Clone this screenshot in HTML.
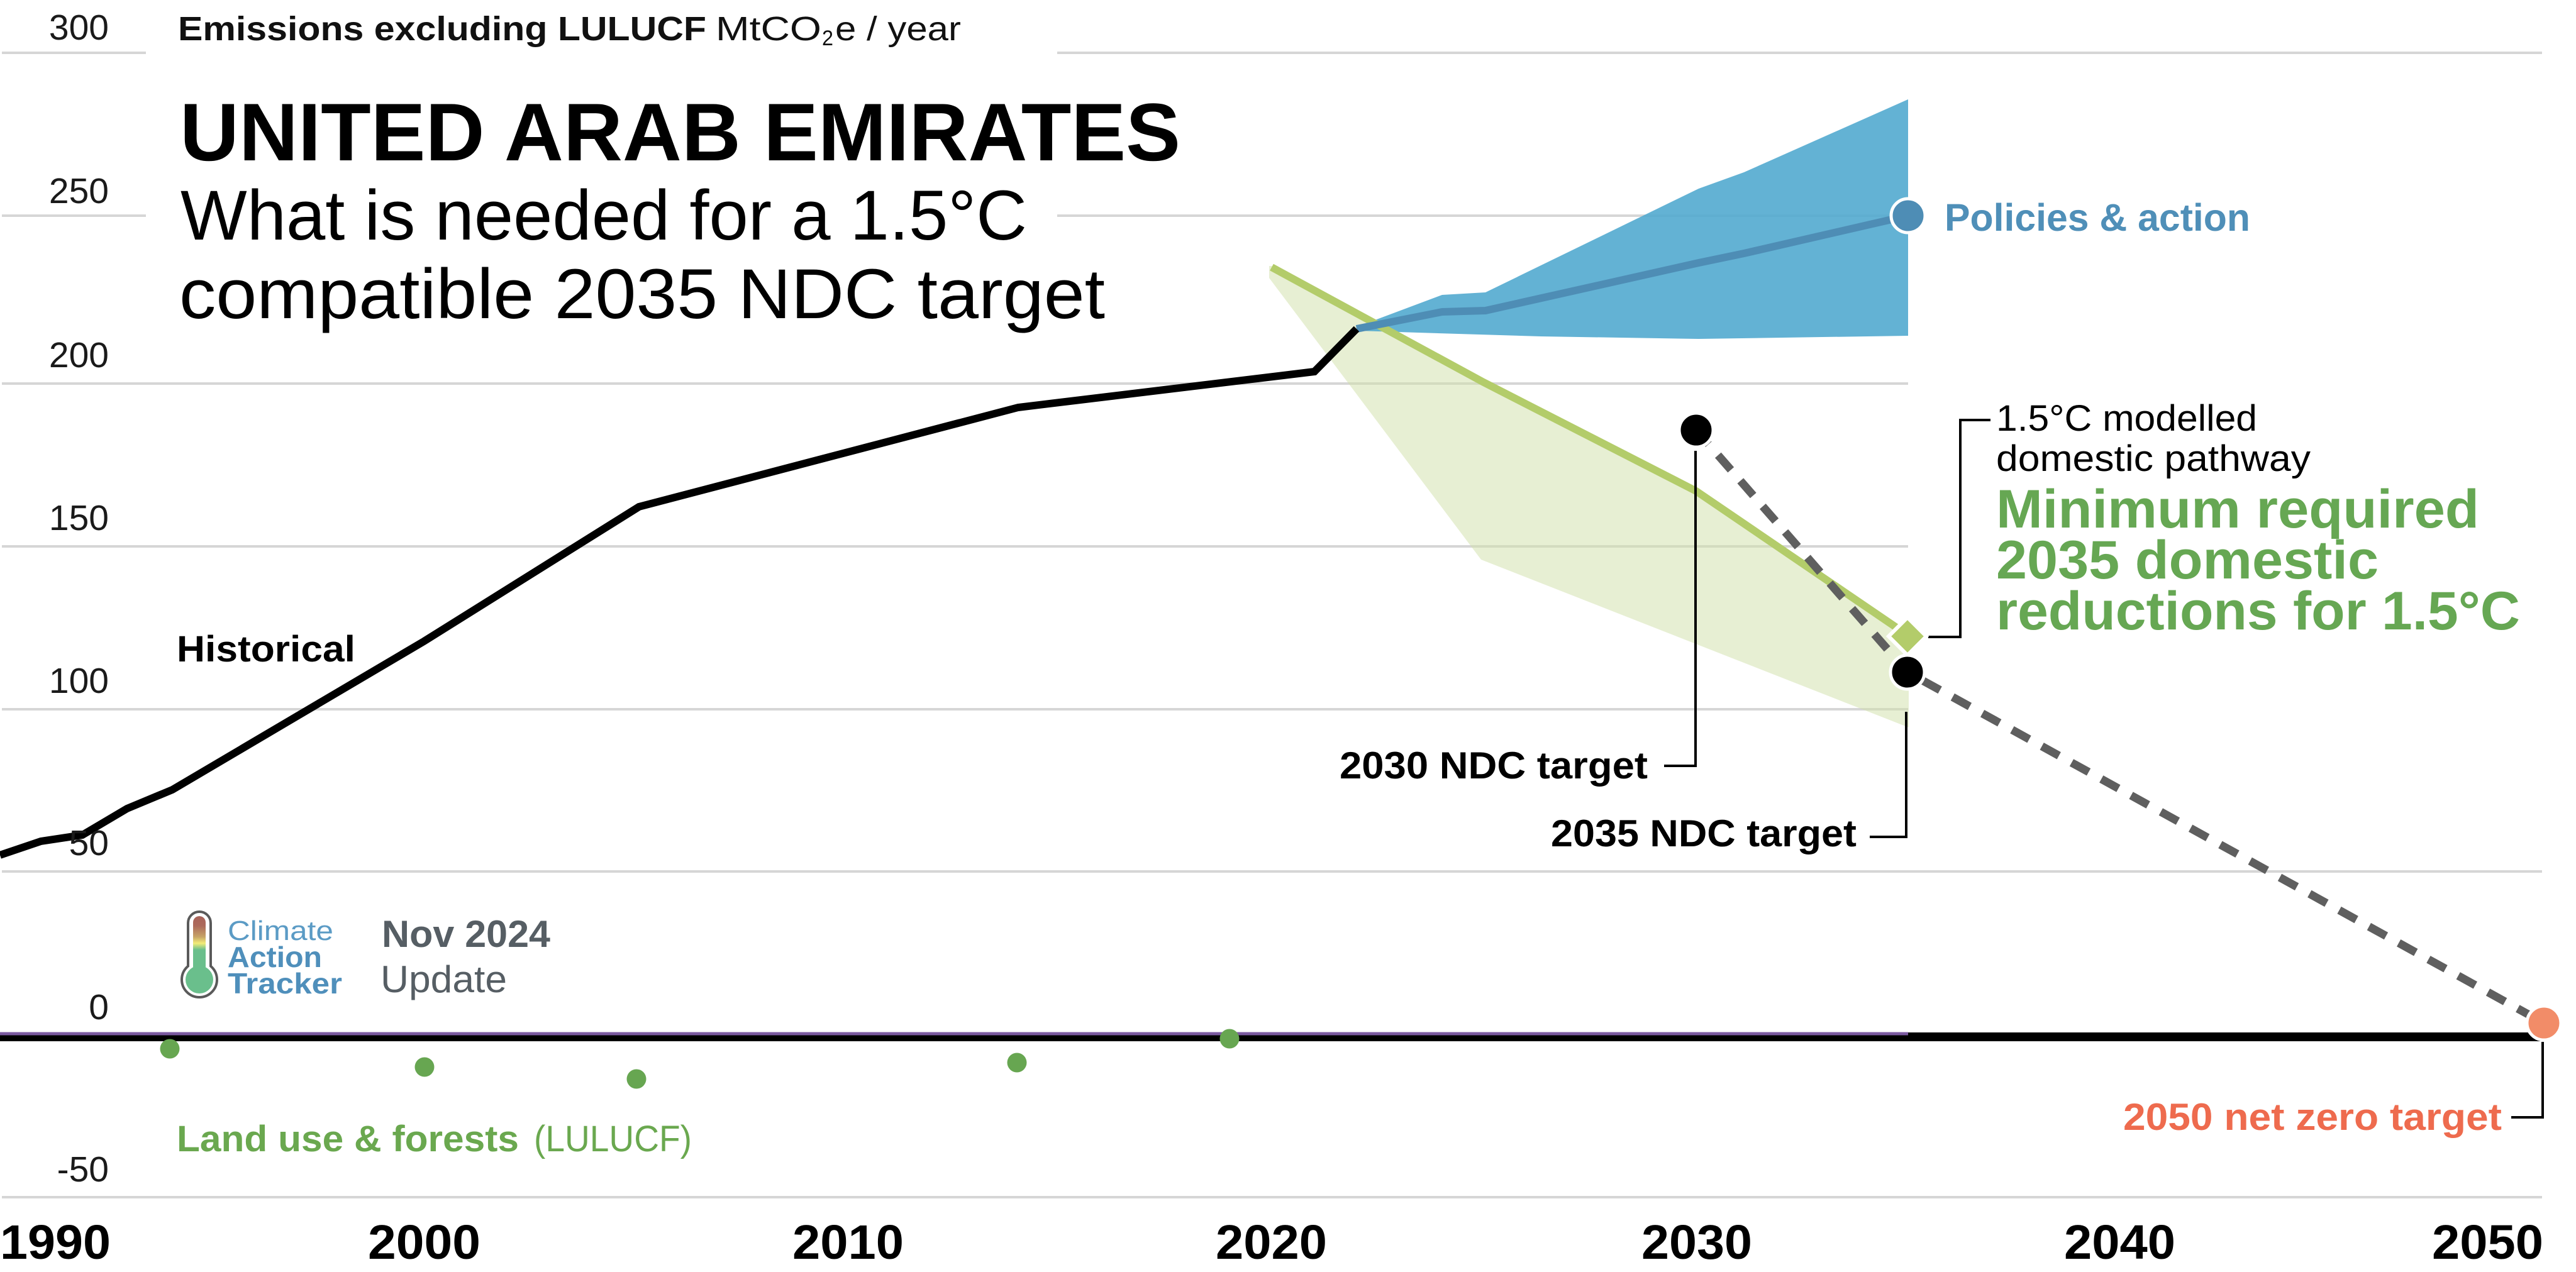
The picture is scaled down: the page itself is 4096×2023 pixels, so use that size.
<!DOCTYPE html>
<html>
<head>
<meta charset="utf-8">
<style>
html,body{margin:0;padding:0;background:#fff;}
svg{display:block;}
text{font-family:"Liberation Sans",sans-serif;}
</style>
</head>
<body>
<svg width="4096" height="2023" viewBox="0 0 4096 2023" xmlns="http://www.w3.org/2000/svg">
<defs>
<linearGradient id="therm" x1="0" y1="1457" x2="0" y2="1560" gradientUnits="userSpaceOnUse">
<stop offset="0" stop-color="#a8625a"/>
<stop offset="0.15" stop-color="#ad6a5b"/>
<stop offset="0.32" stop-color="#c7a466"/>
<stop offset="0.42" stop-color="#f3ec77"/>
<stop offset="0.52" stop-color="#6abf8c"/>
<stop offset="1" stop-color="#6abf8c"/>
</linearGradient>
</defs>
<rect width="4096" height="2023" fill="#fff"/>

<!-- gridlines -->
<g stroke="#d6d6d6" stroke-width="4">
<line x1="3" y1="84" x2="232" y2="84"/>
<line x1="1681" y1="84" x2="4042" y2="84"/>
<line x1="3" y1="343" x2="232" y2="343"/>
<line x1="1681" y1="343" x2="3034" y2="343"/>
<line x1="3" y1="610" x2="3034" y2="610"/>
<line x1="3" y1="869" x2="3034" y2="869"/>
<line x1="3" y1="1128" x2="3034" y2="1128"/>
<line x1="3" y1="1386" x2="4042" y2="1386"/>
<line x1="3" y1="1904" x2="4042" y2="1904"/>
</g>

<!-- 1.5C band -->
<polygon points="2018,423 2022,423 2359,608 2697,781 3035,1012 3035,1157 2355,890 2018,442" fill="#cfe0a8" fill-opacity="0.5"/>

<!-- policies band -->
<polygon points="2157,520 2293,469 2362,465 2701,300 2773,274 3034,158 3034,534 2701,539 2450,535 2157,526" fill="#52aacf" fill-opacity="0.9"/>

<!-- green pathway line -->
<polyline points="2022,425 2359,608 2697,781 3033,1010" fill="none" stroke="#b3cc6a" stroke-width="12"/>

<!-- policies center line -->
<polyline points="2157,523 2293,496 2362,494 2701,418 2773,403 3034,343" fill="none" stroke="#4e8db5" stroke-width="12" stroke-linejoin="round"/>

<!-- historical -->
<polyline points="0,1360 65,1338 131,1328 202,1286 274,1256 674,1020 1016,806 1619,648 2090,591 2157,523" fill="none" stroke="#000" stroke-width="12" stroke-linejoin="miter"/>

<!-- zero line -->
<line x1="0" y1="1649" x2="4045" y2="1649" stroke="#000" stroke-width="14"/>
<line x1="0" y1="1644" x2="3034" y2="1644" stroke="#7b5aa0" stroke-width="5"/>

<!-- LULUCF dots -->
<g fill="#67a651">
<circle cx="270" cy="1668" r="15.5"/>
<circle cx="675" cy="1697" r="15.5"/>
<circle cx="1012" cy="1716" r="15.5"/>
<circle cx="1617" cy="1690" r="15.5"/>
<circle cx="1955" cy="1652" r="15.5"/>
</g>

<!-- dashed NDC path -->
<path d="M2697,684 L3033,1069 L4045,1627" fill="none" stroke="#5f5f5f" stroke-width="13" stroke-dasharray="31 23" stroke-dashoffset="1"/>

<!-- connectors -->
<g stroke="#000" stroke-width="4" fill="none">
<polyline points="2696,717 2696,1218 2646,1218"/>
<polyline points="3031,1132 3031,1331 2973,1331"/>
<polyline points="3165,668 3117,668 3117,1013 3066,1013"/>
<polyline points="4043,1657 4043,1777 3993,1777"/>
</g>

<!-- markers -->
<polygon points="3033,982 3063,1012 3033,1042 3003,1012" fill="#b3cc6a" stroke="#fff" stroke-width="6"/>
<circle cx="3034" cy="343" r="27" fill="#4e8db5" stroke="#fff" stroke-width="5"/>
<circle cx="2697" cy="684" r="27" fill="#000" stroke="#fff" stroke-width="5"/>
<circle cx="3033" cy="1069" r="27" fill="#000" stroke="#fff" stroke-width="5"/>
<circle cx="4045" cy="1627" r="27" fill="#f28c68" stroke="#fff" stroke-width="5"/>

<!-- y tick labels -->
<g font-size="57" fill="#1a1a1a" text-anchor="end">
<text x="173" y="63">300</text>
<text x="173" y="323">250</text>
<text x="173" y="584">200</text>
<text x="173" y="843">150</text>
<text x="173" y="1102">100</text>
<text x="173" y="1360">50</text>
<text x="173" y="1621">0</text>
<text x="173" y="1879">-50</text>
</g>

<!-- x tick labels -->
<g font-size="77" font-weight="bold" fill="#000">
<text x="0" y="2002" textLength="176" lengthAdjust="spacingAndGlyphs">1990</text>
<text x="585" y="2002" textLength="179" lengthAdjust="spacingAndGlyphs">2000</text>
<text x="1260" y="2002" textLength="177" lengthAdjust="spacingAndGlyphs">2010</text>
<text x="1933" y="2002" textLength="177" lengthAdjust="spacingAndGlyphs">2020</text>
<text x="2610" y="2002" textLength="176" lengthAdjust="spacingAndGlyphs">2030</text>
<text x="3282" y="2002" textLength="177" lengthAdjust="spacingAndGlyphs">2040</text>
<text x="3867" y="2002" textLength="177" lengthAdjust="spacingAndGlyphs">2050</text>
</g>

<!-- header -->
<text x="283" y="64" font-size="54" font-weight="bold" fill="#111" textLength="840" lengthAdjust="spacingAndGlyphs">Emissions excluding LULUCF</text>
<text x="1138" y="64" font-size="54" fill="#111" textLength="168" lengthAdjust="spacingAndGlyphs">MtCO</text>
<text x="1307" y="72" font-size="34" fill="#111" textLength="18" lengthAdjust="spacingAndGlyphs">2</text>
<text x="1328" y="64" font-size="54" fill="#111" textLength="200" lengthAdjust="spacingAndGlyphs">e / year</text>

<text x="286" y="255" font-size="130" font-weight="bold" fill="#000" textLength="1591" lengthAdjust="spacingAndGlyphs">UNITED ARAB EMIRATES</text>
<text x="287" y="381" font-size="112" fill="#000" textLength="1346" lengthAdjust="spacingAndGlyphs">What is needed for a 1.5°C</text>
<text x="285" y="506" font-size="112" fill="#000" textLength="1472" lengthAdjust="spacingAndGlyphs">compatible 2035 NDC target</text>

<text x="281" y="1052" font-size="58" font-weight="bold" fill="#000" textLength="284" lengthAdjust="spacingAndGlyphs">Historical</text>

<text x="3092" y="367" font-size="61" font-weight="bold" fill="#4f8fb8" textLength="486" lengthAdjust="spacingAndGlyphs">Policies &amp; action</text>

<text x="3174" y="685" font-size="58" fill="#000" textLength="415" lengthAdjust="spacingAndGlyphs">1.5°C modelled</text>
<text x="3174" y="749" font-size="58" fill="#000" textLength="500" lengthAdjust="spacingAndGlyphs">domestic pathway</text>
<g font-size="86" font-weight="bold" fill="#66a753">
<text x="3174" y="839" textLength="768" lengthAdjust="spacingAndGlyphs">Minimum required</text>
<text x="3174" y="920" textLength="608" lengthAdjust="spacingAndGlyphs">2035 domestic</text>
<text x="3174" y="1001" textLength="833" lengthAdjust="spacingAndGlyphs">reductions for 1.5°C</text>
</g>

<text x="2130" y="1238" font-size="60" font-weight="bold" fill="#000" textLength="490" lengthAdjust="spacingAndGlyphs">2030 NDC target</text>
<text x="2466" y="1346" font-size="60" font-weight="bold" fill="#000" textLength="486" lengthAdjust="spacingAndGlyphs">2035 NDC target</text>
<text x="3376" y="1797" font-size="60" font-weight="bold" fill="#ee6b4e" textLength="602" lengthAdjust="spacingAndGlyphs">2050 net zero target</text>

<text x="281" y="1831" font-size="58" font-weight="bold" fill="#6aa84f" textLength="544" lengthAdjust="spacingAndGlyphs">Land use &amp; forests</text>
<text x="849" y="1831" font-size="58" fill="#6aa84f" textLength="251" lengthAdjust="spacingAndGlyphs">(LULUCF)</text>

<!-- CAT logo -->
<g>
<rect x="299" y="1450" width="36" height="110" rx="18" fill="#fff" stroke="#5a5a5a" stroke-width="4"/>
<circle cx="317" cy="1558" r="28" fill="#fff" stroke="#5a5a5a" stroke-width="4"/>
<rect x="301" y="1470" width="32" height="90" fill="#fff"/>
<rect x="307" y="1457" width="20" height="105" rx="10" fill="url(#therm)"/>
<circle cx="317" cy="1558" r="22" fill="#6abf8c"/>
</g>
<text x="362" y="1495" font-size="44" fill="#5b9bc5" textLength="168" lengthAdjust="spacingAndGlyphs">Climate</text>
<text x="362" y="1538" font-size="46" font-weight="bold" fill="#4f8fbb" textLength="150" lengthAdjust="spacingAndGlyphs">Action</text>
<text x="362" y="1580" font-size="46" font-weight="bold" fill="#4f8fbb" textLength="182" lengthAdjust="spacingAndGlyphs">Tracker</text>
<text x="607" y="1506" font-size="60" font-weight="bold" fill="#565e64" textLength="268" lengthAdjust="spacingAndGlyphs">Nov 2024</text>
<text x="605" y="1578" font-size="60" fill="#565e64" textLength="201" lengthAdjust="spacingAndGlyphs">Update</text>
</svg>
</body>
</html>
